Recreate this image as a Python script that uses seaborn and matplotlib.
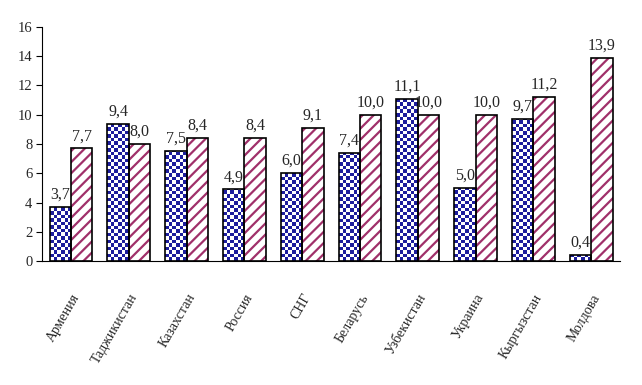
import numpy as np
import pandas as pd
import matplotlib
matplotlib.use("Agg")
import matplotlib.pyplot as plt
import seaborn as sns

countries = ["Армения", "Таджикистан", "Казахстан", "Россия", "СНГ",
             "Беларусь", "Узбекистан", "Украина", "Кыргызстан", "Молдова"]
series_a = [3.7, 9.4, 7.5, 4.9, 6.0, 7.4, 11.1, 5.0, 9.7, 0.4]
series_b = [7.7, 8.0, 8.4, 8.4, 9.1, 10.0, 10.0, 10.0, 11.2, 13.9]
yticks = [0, 2, 4, 6, 8, 10, 12, 14, 16]

df = pd.DataFrame({
    "country": countries * 2,
    "value": series_a + series_b,
    "series": ["a"] * len(countries) + ["b"] * len(countries),
})

sns.set_style("white")
plt.rcParams["font.family"] = ["Liberation Serif", "DejaVu Serif"]
plt.rcParams["hatch.linewidth"] = 1.6

fig = plt.figure(figsize=(6.42, 3.85), dpi=100)
ax = fig.add_axes([0.0654, 0.322, 0.9006, 0.608])

sns.barplot(data=df, x="country", y="value", hue="series", order=countries,
            hue_order=["a", "b"], width=0.74, gap=0, legend=False, ax=ax,
            palette=["white", "white"], saturation=1)

ax.set_xlim(-0.5, len(countries) - 0.5)
ax.set_ylim(0, 16)

# checkerboard texture for first series, diagonal hatch for second
rows, cols = 70, 6
checker = np.indices((rows, cols)).sum(axis=0) % 2
cmap = matplotlib.colors.ListedColormap(["white", "#1c1c9c"])
cell_h = 0.24  # data units, about 3.5 px
n = len(countries)
for i, p in enumerate(ax.patches[:2 * n]):
    p.set_edgecolor("black")
    p.set_linewidth(1.2)
    if i < n:
        x0 = p.get_x()
        w = p.get_width()
        im = ax.imshow(checker, cmap=cmap, interpolation="nearest",
                       extent=(x0, x0 + w, 0, rows * cell_h), origin="lower",
                       aspect="auto", zorder=p.get_zorder() - 0.1)
        im.set_clip_path(p)
        p.set_facecolor("none")
        p.set_zorder(p.get_zorder() + 0.2)
    else:
        p.set_hatch("///")
        p.set_facecolor("white")
        p._hatch_color = matplotlib.colors.to_rgba("#a0306a")

for container in ax.containers:
    labels = [f"{v:.1f}".replace(".", ",") for v in container.datavalues]
    ax.bar_label(container, labels=labels, padding=3, fontsize=11.5)

ax.set_xlim(-0.5, n - 0.5)
ax.set_ylim(0, 16)
ax.set_yticks(yticks)
ax.set_yticklabels([str(t) for t in yticks], fontsize=10.5)
ax.set_aspect("auto")
ax.set_xlabel("")
ax.set_ylabel("")

ax.set_xticks(range(n))
ax.set_xticklabels(countries, rotation=60, ha="right", rotation_mode="anchor",
                   fontsize=10)
ax.set_xticks(np.arange(n + 1) - 0.5, minor=True)
ax.tick_params(axis="x", which="major", length=0, pad=22)
ax.tick_params(axis="x", which="minor", length=4, width=0.8, direction="out",
               color="black")
ax.tick_params(axis="y", length=4, width=0.8, direction="out", color="black",
               left=True, pad=3)

sns.despine(ax=ax)
for s in ["left", "bottom"]:
    ax.spines[s].set_color("black")
    ax.spines[s].set_linewidth(0.8)

fig.savefig("out.png", dpi=100, facecolor="white")
